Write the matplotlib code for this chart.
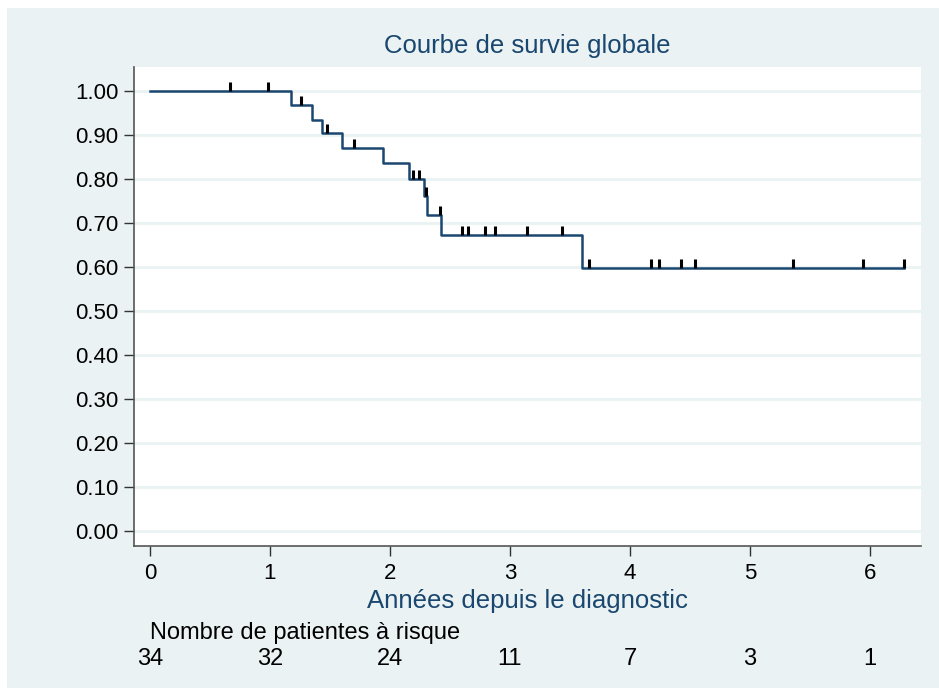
import numpy as np
import matplotlib
matplotlib.use("Agg")
import matplotlib.pyplot as plt
from matplotlib.patches import Rectangle
import matplotlib.transforms as mtransforms

# Step function of the survival curve (years, survival after the step)
step_times = [0.0, 1.175, 1.347, 1.43, 1.60, 1.944, 2.16, 2.28, 2.31, 2.425, 3.597]
step_surv = [1.0, 0.969, 0.935, 0.905, 0.870, 0.836, 0.800, 0.762, 0.718, 0.673, 0.598]
end_time = 6.283

# Censored observations (years)
censor_times = [0.667, 0.986, 1.256, 1.478, 1.70, 2.19, 2.244, 2.30, 2.417,
                2.597, 2.653, 2.79, 2.875, 3.144, 3.43, 3.658, 4.172, 4.244,
                4.425, 4.54, 5.36, 5.94, 6.283]

# Number at risk table
risk_times = [0, 1, 2, 3, 4, 5, 6]
risk_counts = [34, 32, 24, 11, 7, 3, 1]

xticks = [0, 1, 2, 3, 4, 5, 6]
yticks = [0.0, 0.1, 0.2, 0.3, 0.4, 0.5, 0.6, 0.7, 0.8, 0.9, 1.0]

W, H = 939, 690
plt.rcParams['font.family'] = ['Liberation Sans', 'DejaVu Sans']
fig = plt.figure(figsize=(W / 100, H / 100), dpi=100)
fig.patch.set_facecolor('white')
bg = '#eaf2f3'
fig.patches.append(Rectangle((7 / W, 2 / H), 1 - 7 / W, (H - 10) / H,
                             transform=fig.transFigure, facecolor=bg,
                             edgecolor='none', zorder=-10))

L, R, T, B = 134, 921, 67, 546
ax = fig.add_axes([L / W, 1 - B / H, (R - L) / W, (B - T) / H])
ax.set_facecolor('white')

navy = '#1a476f'
xs = list(step_times) + [end_time]
ys = list(step_surv) + [step_surv[-1]]
ax.step(xs, ys, where='post', color=navy, lw=1.8, zorder=3)

# censor ticks
st = np.array(step_times)
sv = np.array(step_surv)
cy = sv[np.searchsorted(st, np.array(censor_times), side='right') - 1]
ax.vlines(censor_times, cy, cy + 0.02, colors='black', lw=2.2, zorder=4)

ax.set_xlim(-0.133, 6.425)
ax.set_ylim(-0.034, 1.0545)
ax.set_yticks(yticks)
ax.set_yticklabels([f"{v:.2f}" for v in yticks])
ax.set_xticks(xticks)
ax.set_xticklabels([str(v) for v in xticks])
ax.grid(axis='y', color=bg, lw=2, zorder=0)
ax.set_axisbelow(True)
for s in ['top', 'right']:
    ax.spines[s].set_visible(False)
for s in ['left', 'bottom']:
    ax.spines[s].set_color('#555555')
    ax.spines[s].set_linewidth(1.2)
ax.tick_params(axis='both', labelsize=16, length=7, width=1.0, color='#333333',
               labelcolor='black')
ax.tick_params(axis='y', pad=4)
ax.tick_params(axis='x', pad=5)

fig.text(527.5 / W, 1 - 46 / H, 'Courbe de survie globale', ha='center', va='center',
         fontsize=18.5, color=navy)
fig.text(527.5 / W, 1 - 601 / H, 'Années depuis le diagnostic', ha='center',
         va='center', fontsize=18.5, color=navy)
fig.text(150 / W, 1 - 633 / H, 'Nombre de patientes à risque', ha='left',
         va='center', fontsize=17, color='black')
row_tr = mtransforms.blended_transform_factory(ax.transData, fig.transFigure)
for t, c in zip(risk_times, risk_counts):
    ax.text(t, 1 - 659 / H, str(c), transform=row_tr, ha='center',
            va='center', fontsize=17, color='black')

fig.savefig('out.png', dpi=100, facecolor=fig.get_facecolor())
